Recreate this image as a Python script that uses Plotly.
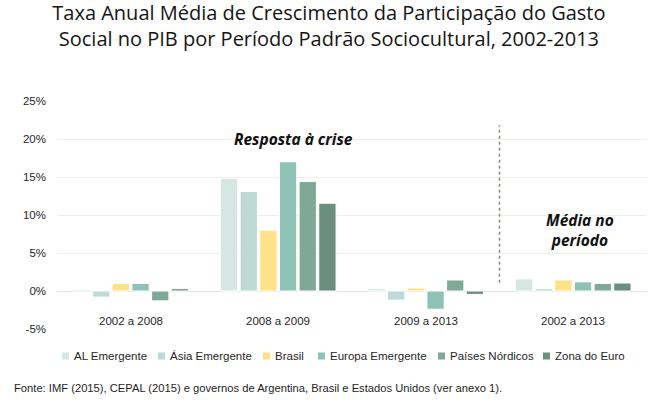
import plotly.graph_objects as go

categories = ["2002 a 2008", "2008 a 2009", "2009 a 2013", "2002 a 2013"]
series_names = ["AL Emergente", "Ásia Emergente", "Brasil", "Europa Emergente",
                "Países Nórdicos", "Zona do Euro"]
al_emergente = [0.2, 14.8, 0.3, 1.6]
asia_emergente = [-0.8, 13.1, -1.2, 0.3]
brasil = [1.0, 8.0, 0.4, 1.45]
europa_emergente = [1.0, 17.0, -2.4, 1.2]
paises_nordicos = [-1.3, 14.4, 1.45, 1.0]
zona_do_euro = [0.3, 11.55, -0.45, 1.05]
values = [al_emergente, asia_emergente, brasil, europa_emergente, paises_nordicos, zona_do_euro]
colors = ["#d4e7e2", "#bddad4", "#fde28a", "#8fc2b6", "#80a898", "#6b8f7e"]
y_ticks = [-5, 0, 5, 10, 15, 20, 25]
y_tick_labels = ["-5%", "0%", "5%", "10%", "15%", "20%", "25%"]

# layout helpers (pixel -> paper)
L, R, T, B = 57, 3, 101, 71
W, H = 650, 400
PW, PH = W - L - R, H - T - B
def px(x):
    return (x - L) / PW
def py(y):
    return (H - B - y) / PH

SANS = "Liberation Sans, Arial, sans-serif"

fig = go.Figure()
for name, vals, col in zip(series_names, values, colors):
    fig.add_trace(go.Bar(x=categories, y=vals, name=name,
                         marker=dict(color=col, line=dict(color="white", width=1)),
                         showlegend=False))

fig.update_layout(
    width=W, height=H,
    margin=dict(l=L, r=R, t=T, b=B),
    paper_bgcolor="white", plot_bgcolor="white",
    barmode="group", bargap=0.2, bargroupgap=0.12,
    title=dict(text="Taxa Anual Média de Crescimento da Participação do Gasto<br>Social no PIB por Período Padrão Sociocultural, 2002-2013",
               x=0.506, xanchor="center", xref="container",
               y=0.95, yanchor="top", yref="container",
               font=dict(family="Open Sans", size=20, color="#151515")),
    xaxis=dict(showticklabels=False, showgrid=False, zeroline=False, showline=False,
               ticks=""),
    yaxis=dict(range=[-5, 25], tickvals=y_ticks, ticktext=y_tick_labels,
               showgrid=True, gridcolor="#efefe9", gridwidth=1,
               zeroline=True, zerolinecolor="#e8e8e2", zerolinewidth=1,
               showline=False, ticks="", ticklabelstandoff=10,
               tickfont=dict(family=SANS, size=11.5, color="#262626")),
)

# category labels
for c in categories:
    fig.add_annotation(x=c, y=-3.9, xref="x", yref="y", text=c, showarrow=False,
                       xanchor="center", yanchor="middle",
                       font=dict(family=SANS, size=11.5, color="#262626"))

# dashed separator
fig.add_shape(type="line", xref="x", yref="y", x0=2.5, x1=2.5, y0=1.1, y1=21.8,
              line=dict(color="#8a8a80", width=1.5, dash="dot"))

# text callouts
fig.add_annotation(x=px(293), y=py(139), xref="paper", yref="paper",
                   xanchor="center", yanchor="middle",
                   text="<b><i>Resposta à crise</i></b>", showarrow=False,
                   font=dict(family="Open Sans", size=15.5, color="#111111"))
fig.add_annotation(x=px(580), y=py(230), xref="paper", yref="paper",
                   xanchor="center", yanchor="middle",
                   text="<b><i>Média no<br>período</i></b>", showarrow=False,
                   font=dict(family="Open Sans", size=15.5, color="#111111"))

# manual legend (text start pixel positions)
legend_text_x = [72, 168, 273, 328, 448, 553]
legend_y = 356
for name, col, tx in zip(series_names, colors, legend_text_x):
    fig.add_shape(type="rect", xref="paper", yref="paper",
                  x0=px(tx - 10), x1=px(tx - 3), y0=py(legend_y + 3.5), y1=py(legend_y - 3.5),
                  fillcolor=col, line=dict(width=0))
    fig.add_annotation(x=px(tx), y=py(legend_y), xref="paper", yref="paper",
                       xanchor="left", yanchor="middle", text=name, showarrow=False,
                       font=dict(family=SANS, size=11.5, color="#262626"))

fig.add_annotation(x=px(12), y=py(388), xref="paper", yref="paper",
                   xanchor="left", yanchor="middle",
                   text="Fonte: IMF (2015), CEPAL (2015) e governos de Argentina, Brasil e Estados Unidos (ver anexo 1).",
                   showarrow=False,
                   font=dict(family=SANS, size=11.2, color="#1e1e1e"))

fig.write_html("out.html")
